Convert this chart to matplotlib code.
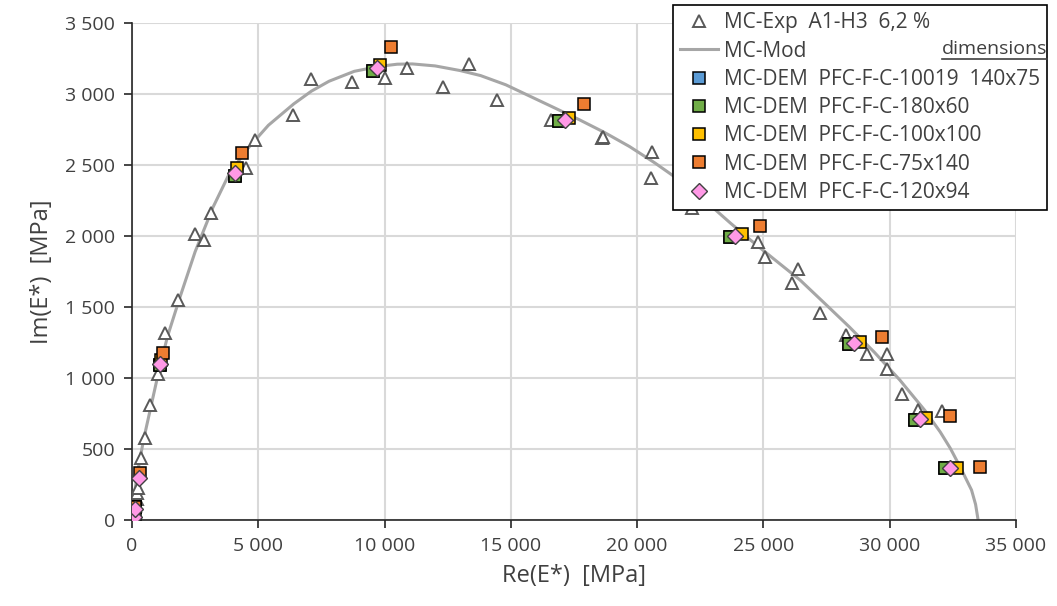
import numpy as np
import matplotlib.pyplot as plt
from matplotlib.ticker import FuncFormatter, MultipleLocator
from matplotlib.lines import Line2D

plt.rcParams['font.family'] = ['Open Sans', 'DejaVu Sans']

# MC-Exp A1-H3 6,2 % (open triangles)
exp_re = [40, 70, 120, 180, 210, 250, 340, 515, 713, 1030, 1306, 1821, 2494, 2850, 3128,
          4514, 4870, 6386, 7075, 8697, 10004, 10900, 12325, 13354, 14438, 16588, 18595,
          18630, 20575, 20535, 22158, 24797, 25060, 26355, 26130, 27238, 28266, 29085,
          29903, 29903, 30472, 31131, 32058]
exp_im = [15, 50, 100, 150, 188, 223, 434, 577, 810, 1028, 1317, 1549, 2014, 1972, 2162,
          2479, 2676, 2852, 3103, 3087, 3110, 3181, 3051, 3211, 2958, 2817, 2688,
          2700, 2594, 2406, 2195, 1960, 1850, 1765, 1667, 1460, 1303, 1169,
          1169, 1061, 885, 775, 770]

# MC-Mod (grey line)
mod_re = [0, 50, 100, 200, 300, 500, 700, 1000, 1400, 1900, 2500, 3200, 3800, 4500,
          5400, 6400, 7100, 7800, 8800, 9800, 10500, 11100, 12000, 13000, 13800, 14800,
          15750, 16700, 17700, 18700, 19700, 20700, 21700, 22400, 23000, 23700, 24500,
          25400, 26450, 27400, 28400, 29400, 30400, 31400, 32000, 32400, 32800, 33240,
          33400, 33500]
mod_im = [0, 110, 190, 310, 420, 600, 760, 1000, 1290, 1570, 1890, 2200, 2420, 2600,
          2780, 2930, 3020, 3090, 3160, 3195, 3210, 3212, 3198, 3165, 3130, 3065,
          2985, 2905, 2820, 2730, 2630, 2515, 2390, 2295, 2200, 2090, 1970,
          1840, 1690, 1530, 1360, 1180, 986, 770, 620, 505, 370, 211,
          110, 0]

# MC-DEM series
green_re = [80, 100, 1100, 4078, 9528, 16906, 23675, 28400, 30999, 32187]
green_im = [30, 90, 1095, 2425, 3162, 2810, 1991, 1239, 704, 364]
blue_re = green_re
blue_im = green_im
yellow_re = [80, 110, 1150, 4143, 9818, 17302, 24137, 28822, 31434, 32649]
yellow_im = [35, 95, 1130, 2476, 3204, 2833, 2012, 1256, 716, 364]
orange_re = [100, 119, 317, 1227, 4342, 10254, 17907, 24863, 29705, 32385, 33572]
orange_im = [42, 94, 329, 1176, 2587, 3331, 2927, 2070, 1291, 732, 375]
pink_re = [91, 119, 277, 1100, 4078, 9712, 17143, 23873, 28585, 31197, 32385]
pink_im = [19, 75, 294, 1100, 2446, 3181, 2817, 2002, 1244, 711, 364]

fig = plt.figure(figsize=(10.57, 6.06), dpi=100)
ax = fig.add_axes([0.1249, 0.1419, 0.8363, 0.8201])

ax.plot(mod_re, mod_im, color='#a6a6a6', lw=2.2, zorder=2, solid_joinstyle='round')
ax.plot(exp_re, exp_im, ls='none', marker='^', ms=8, mfc='white', mec='#595959', mew=1.4, zorder=3)

sq = dict(ls='none', marker='s', ms=9, mec='black', mew=1.1, zorder=4)
ax.plot(blue_re, blue_im, mfc='#5b9bd5', **sq)
ax.plot(green_re, green_im, mfc='#70ad47', **sq)
ax.plot(yellow_re, yellow_im, mfc='#ffc000', **sq)
ax.plot(orange_re, orange_im, mfc='#ed7d31', **sq)
ax.plot(pink_re, pink_im, ls='none', marker='D', ms=8, mfc='#ff99e6', mec='#404040', mew=1.0, zorder=5)

ax.set_xlim(0, 35000)
ax.set_ylim(0, 3500)
ax.xaxis.set_major_locator(MultipleLocator(5000))
ax.yaxis.set_major_locator(MultipleLocator(500))
fmt = FuncFormatter(lambda v, p: '{:,}'.format(int(v)).replace(',', ' '))
ax.xaxis.set_major_formatter(fmt)
ax.yaxis.set_major_formatter(fmt)
ax.grid(True, color='#d9d9d9', lw=1.5)
ax.set_axisbelow(True)
for s in ['top', 'right']:
    ax.spines[s].set_visible(False)
for s in ['left', 'bottom']:
    ax.spines[s].set_color('#262626')
    ax.spines[s].set_linewidth(1.2)
ax.tick_params(direction='out', length=6, width=1.2, color='#262626',
               labelsize=14, labelcolor='#404040', pad=6)
ax.set_xlabel('Re(E*)  [MPa]', fontsize=17, color='#404040', labelpad=7)
ax.set_ylabel('Im(E*)  [MPa]', fontsize=17, color='#404040', labelpad=8)

handles = [
    Line2D([], [], ls='none', marker='^', ms=8, mfc='white', mec='#595959', mew=1.4),
    Line2D([], [], color='#a6a6a6', lw=2.2),
    Line2D([], [], mfc='#5b9bd5', **sq),
    Line2D([], [], mfc='#70ad47', **sq),
    Line2D([], [], mfc='#ffc000', **sq),
    Line2D([], [], mfc='#ed7d31', **sq),
    Line2D([], [], ls='none', marker='D', ms=8, mfc='#ff99e6', mec='#404040', mew=1.0),
]
labels = ['MC-Exp  A1-H3  6,2 %', 'MC-Mod',
          'MC-DEM  PFC-F-C-10019  140x75', 'MC-DEM  PFC-F-C-180x60',
          'MC-DEM  PFC-F-C-100x100', 'MC-DEM  PFC-F-C-75x140',
          'MC-DEM  PFC-F-C-120x94']
leg = fig.legend(handles, labels, loc='upper left', bbox_to_anchor=(673 / 1057, 1 - 5 / 606),
                 fontsize=15, frameon=True, fancybox=False, framealpha=1,
                 edgecolor='black', handlelength=1.8, handletextpad=0.3,
                 labelspacing=0.35, borderpad=0.35, borderaxespad=0)
leg.get_frame().set_linewidth(1.2)
for t in leg.get_texts():
    t.set_color('#404040')

dim = fig.text(1047 / 1057, 1 - 54 / 606, 'dimensions', ha='right', va='baseline',
               fontsize=14, color='#404040', zorder=10)
fig.canvas.draw()
bb = dim.get_window_extent().transformed(fig.transFigure.inverted())
fig.add_artist(Line2D([bb.x0, bb.x1], [1 - 59 / 606, 1 - 59 / 606],
                      color='#404040', lw=1.2, zorder=10))

fig.savefig('out.png', dpi=100)
